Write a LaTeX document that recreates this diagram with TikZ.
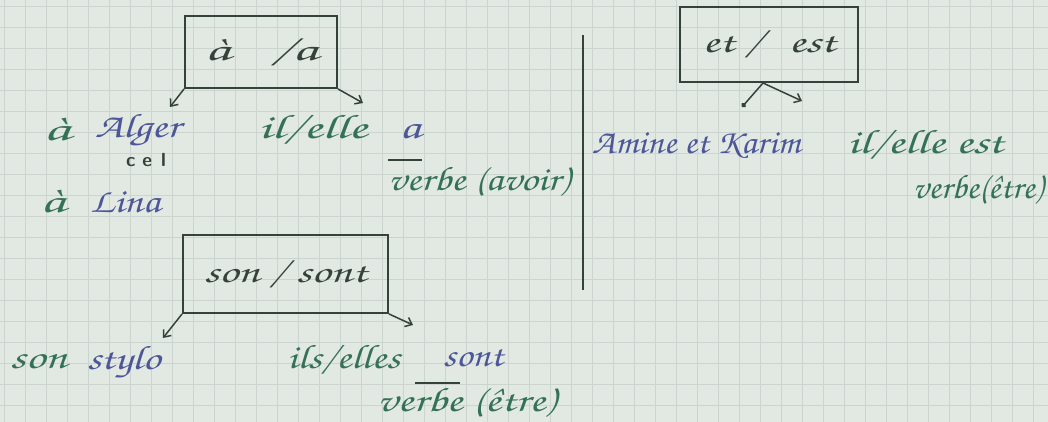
\documentclass[tikz,border=0pt]{standalone}
\usepackage{fontspec}
\usepackage{graphicx}
\setmainfont{TeX Gyre Chorus}
\usetikzlibrary{arrows.meta}
\definecolor{paper}{RGB}{226,232,226}
\definecolor{gridc}{RGB}{203,212,206}
\definecolor{inkg}{RGB}{52,114,86}
\definecolor{inkb}{RGB}{76,86,152}
\definecolor{inkd}{RGB}{52,66,58}
\newcommand{\hwfit}[2]{\resizebox{#1pt}{\height}{#2}}
\tikzset{
  box/.style={draw=inkd, line width=1.9pt, inner sep=0pt, text=inkd, font=\fontsize{32}{34}\selectfont},
  hw/.style={inner sep=0pt, anchor=west, font=\fontsize{34}{36}\selectfont},
  gw/.style={hw, text=inkg},
  bw/.style={hw, text=inkb},
  arr/.style={draw=inkd, line width=1.5pt, -{Straight Barb[length=6pt,width=10pt]}},
  dotarr/.style={draw=inkd, line width=1.5pt, -{Circle[length=5pt]}},
  rule/.style={draw=inkd, line width=1.3pt}
}
\begin{document}
\begin{tikzpicture}[x=1pt,y=-1pt]
\fill[paper] (0,0) rectangle (1048,422);
\useasboundingbox (0,0) rectangle (1048,422);
\foreach \i in {0,...,50} {\draw[gridc, line width=0.6pt] (\i*21+4,0) -- (\i*21+4,422);}
\foreach \j in {0,...,20} {\draw[gridc, line width=0.6pt] (0,\j*21+6) -- (1048,\j*21+6);}

% box 1
\node[box, minimum width=152pt, minimum height=72pt] (b1) at (261,52) {\hwfit{113}{à\hspace{22pt}/a}};
\coordinate (l1) at (170,107);
\coordinate (r1) at (363,103);
\draw[arr] (b1.south west) -- (l1);
\draw[arr] (b1.south east) -- (r1);
\node[gw] (a1) at (43,130) {\hwfit{27}{à}};
\node[bw] (alger) at (95,130) {\hwfit{85}{Alger}};
\node[inner sep=0pt, text=inkd, font=\sffamily\bfseries\fontsize{19}{20}\selectfont] (cel) at (146,160) {c\hspace{7pt}e\hspace{9pt}l};
\node[gw] (a2) at (40,202) {\hwfit{25}{à}};
\node[bw] (lina) at (90,202) {\hwfit{70}{Lina}};
\node[gw] (ilelle1) at (258,130) {\hwfit{109}{il/elle}};
\node[bw, anchor=center] (aa) at (410,132) {\hwfit{21}{a}};
\coordinate (ba) at (388,160);
\coordinate (bb) at (422,160);
\draw[rule] (ba) -- (bb);
\node[gw] (verbeavoir) at (388,182) {\hwfit{181}{verbe (avoir)}};

% separator
\coordinate (s1) at (583,35);
\coordinate (s2) at (583,290);
\draw[draw=inkd, line width=1.6pt] (s1) -- (s2);

% box 2
\node[box, minimum width=178pt, minimum height=75pt] (b2) at (769,44.5) {\hwfit{133}{et /\hspace{18pt}est}};
\coordinate (apex) at (763,83);
\coordinate (l2) at (742,107);
\coordinate (r2) at (802,101);
\draw[dotarr] (apex) -- (l2);
\draw[arr] (apex) -- (r2);
\node[bw] (amine) at (592,145) {\hwfit{208}{Amine et Karim}};
\node[gw] (ilelle2) at (847,145) {\hwfit{156}{il/elle est}};
\node[gw, anchor=east] (verbeetre1) at (1043,190) {\hwfit{130}{verbe(être)}};

% box 3
\node[box, minimum width=205pt, minimum height=78pt] (b3) at (285.5,274) {\hwfit{163}{son / sont}};
\coordinate (l3) at (163,338);
\coordinate (r3) at (413,325);
\draw[arr] (b3.south west) -- (l3);
\draw[arr] (b3.south east) -- (r3);
\node[gw] (son) at (10,362) {\hwfit{57}{son}};
\node[bw] (stylo) at (87,362) {\hwfit{73}{stylo}};
\node[gw] (ilselles) at (287,360) {\hwfit{113}{ils/elles}};
\node[bw] (sont) at (443,358) {\hwfit{60}{sont}};
\coordinate (ca) at (415,383);
\coordinate (cb) at (460,383);
\draw[rule] (ca) -- (cb);
\node[gw] (verbeetre2) at (377,403) {\hwfit{178}{verbe (être)}};
\end{tikzpicture}
\end{document}
